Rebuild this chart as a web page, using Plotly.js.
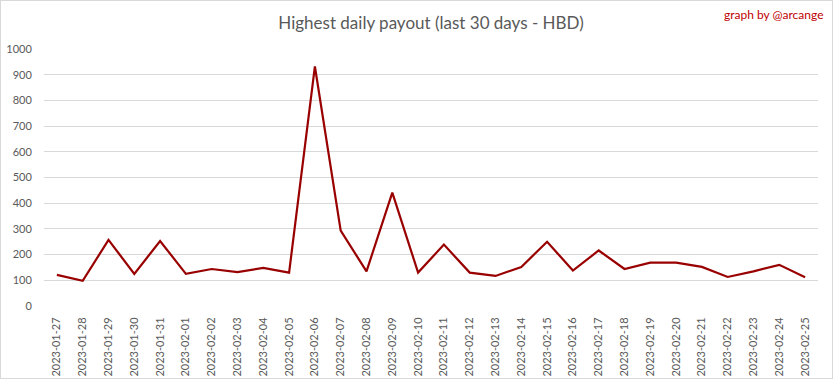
<!DOCTYPE html>
<html>
<head>
<meta charset="utf-8">
<script src="https://cdn.plot.ly/plotly-3.0.1.min.js"></script>
<style>
html,body{margin:0;padding:0;background:#fff;}
#wrap{position:relative;width:833px;height:379px;}
#chart{width:833px;height:379px;}
#frame{position:absolute;left:0;top:0;width:833px;height:379px;box-sizing:border-box;border:1px solid #d9d9d9;pointer-events:none;}
</style>
</head>
<body>
<div id="wrap"><div id="chart"></div><div id="frame"></div></div>
<script>
const dates = ["2023-01-27","2023-01-28","2023-01-29","2023-01-30","2023-01-31","2023-02-01","2023-02-02","2023-02-03","2023-02-04","2023-02-05","2023-02-06","2023-02-07","2023-02-08","2023-02-09","2023-02-10","2023-02-11","2023-02-12","2023-02-13","2023-02-14","2023-02-15","2023-02-16","2023-02-17","2023-02-18","2023-02-19","2023-02-20","2023-02-21","2023-02-22","2023-02-23","2023-02-24","2023-02-25"];
const payouts = [121,98,257,125,253,125,144,132,148,130,932,293,135,441,130,239,130,117,152,250,138,216,144,169,169,152,113,135,160,112];
const yTicks = [0,100,200,300,400,500,600,700,800,900,1000];

const trace = {
  type: "scatter", mode: "lines",
  x: dates, y: payouts,
  line: {color: "#990000", width: 2.2},
  hoverinfo: "x+y"
};
const layout = {
  width: 833, height: 379,
  margin: {l: 44, r: 15, t: 49, b: 73, pad: 0},
  paper_bgcolor: "#ffffff", plot_bgcolor: "#ffffff",
  showlegend: false,
  font: {family: "Lato, 'Open Sans', sans-serif", color: "#595959", size: 11},
  title: {text: "Highest daily payout (last 30 days - HBD)", x: 0.5, xanchor: "center", xref: "paper", y: 0.94, yref: "container", yanchor: "middle",
          font: {family: "Lato, 'Open Sans', sans-serif", size: 17, color: "#595959"}},
  xaxis: {type: "category", tickangle: -90, showgrid: false, zeroline: false, showline: false,
          ticks: "outside", ticklen: 6, tickcolor: "rgba(0,0,0,0)",
          tickfont: {family: "Lato, 'Open Sans', sans-serif", size: 11, color: "#595959"},
          range: [-0.5, dates.length - 0.5], fixedrange: true},
  yaxis: {range: [0, 1000], tickvals: yTicks, ticktext: yTicks.map(String), showgrid: true, gridcolor: "#d9d9d9", gridwidth: 1,
          zeroline: false, showline: false, ticks: "outside", ticklen: 9, tickcolor: "rgba(0,0,0,0)",
          tickfont: {family: "Lato, 'Open Sans', sans-serif", size: 11, color: "#595959"}, fixedrange: true},
  annotations: [{text: "graph by @arcange", xref: "paper", yref: "paper", x: 1.01, y: 1.0, xanchor: "right", yanchor: "bottom",
                 yshift: 25, showarrow: false, font: {family: "Lato, 'Open Sans', sans-serif", size: 12, color: "#c00000"}}]
};
Plotly.newPlot("chart", [trace], layout, {displayModeBar: false, responsive: false});
</script>
</body>
</html>
